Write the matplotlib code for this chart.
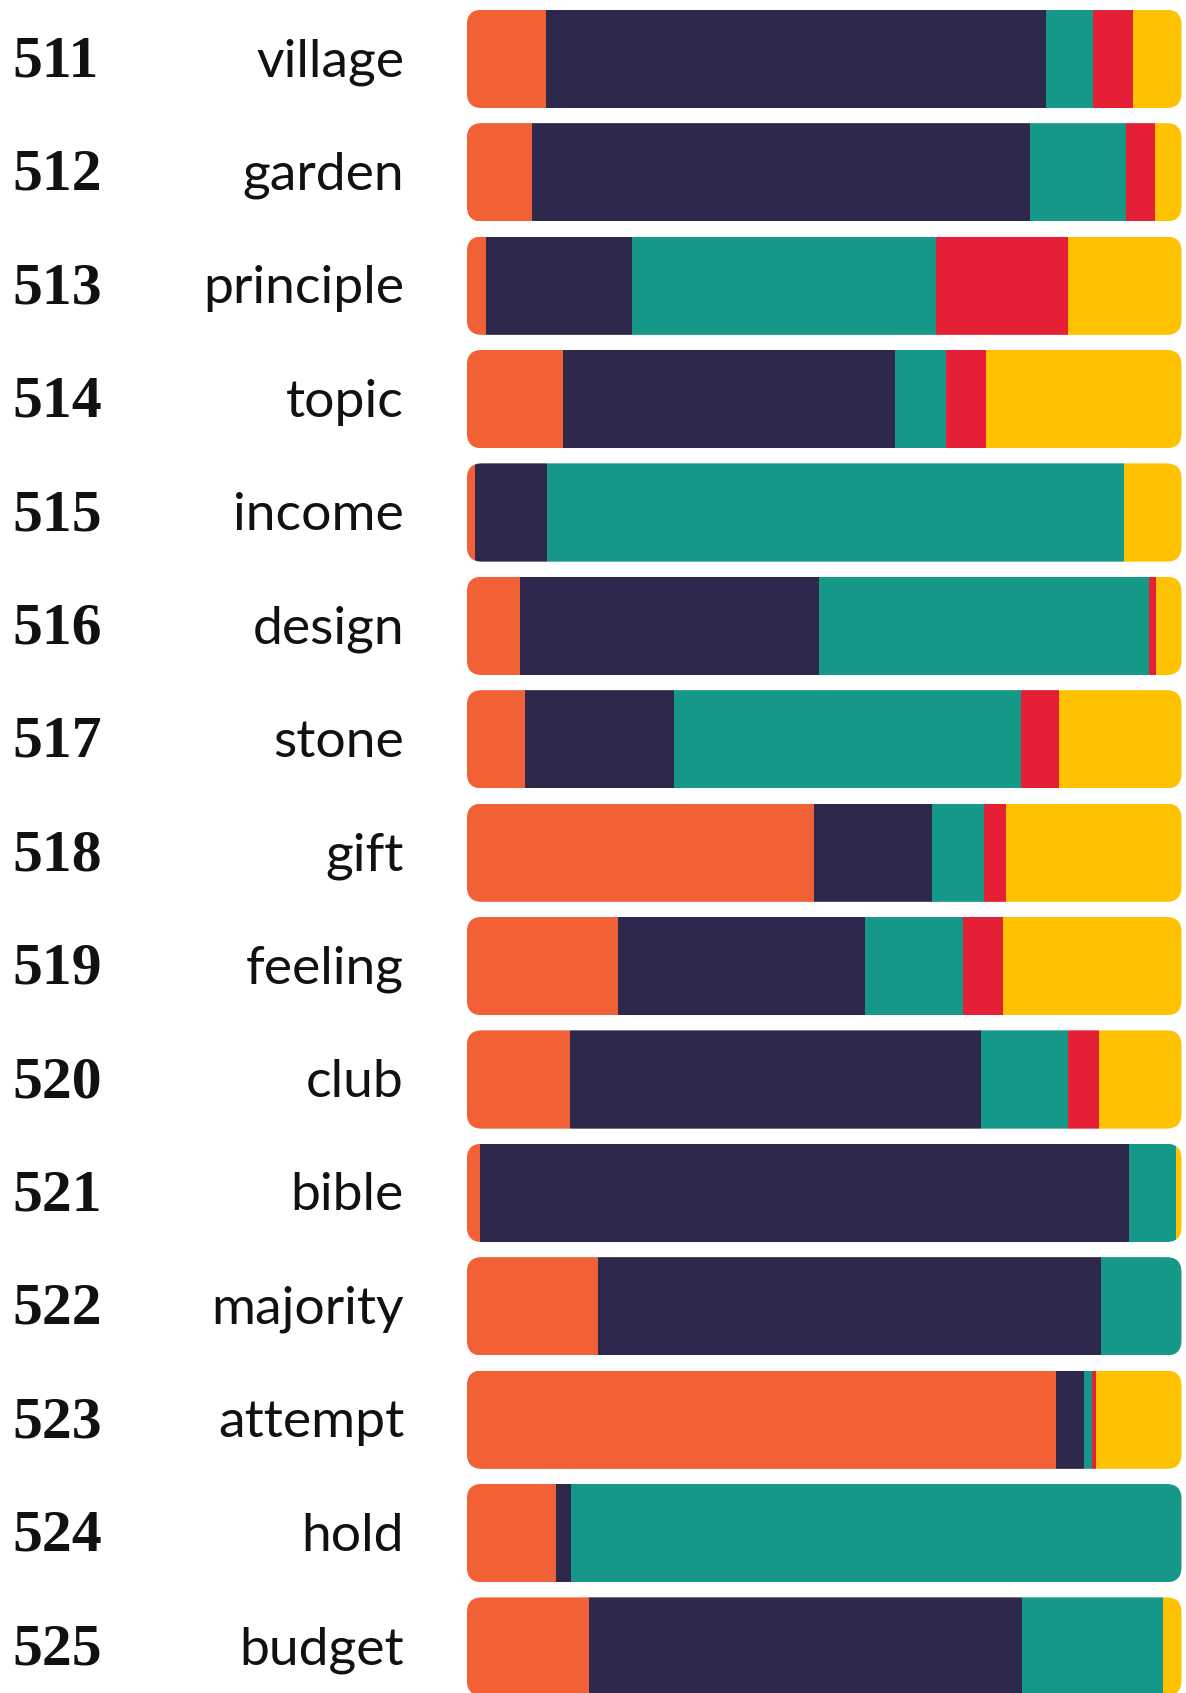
import matplotlib
matplotlib.use("Agg")
import matplotlib.pyplot as plt
import matplotlib.transforms as mtransforms
from matplotlib.patches import FancyBboxPatch
import numpy as np

ranks = [511, 512, 513, 514, 515, 516, 517, 518, 519, 520, 521, 522, 523, 524, 525]
words = ["village", "garden", "principle", "topic", "income", "design", "stone",
         "gift", "feeling", "club", "bible", "majority", "attempt", "hold", "budget"]

# share of each category per word, in percent
cat_a = [11.0, 9.1, 2.7, 13.4, 1.2, 7.5, 8.2, 48.6, 21.2, 14.4, 1.8, 18.3, 82.4, 12.4, 17.1]
cat_b = [70.1, 69.7, 20.4, 46.5, 10.0, 41.8, 20.8, 16.5, 34.5, 57.5, 90.9, 70.5, 3.9, 2.1, 60.6]
cat_c = [6.5, 13.5, 42.6, 7.1, 80.7, 46.2, 48.6, 7.2, 13.7, 12.2, 6.5, 11.2, 1.2, 85.5, 19.7]
cat_d = [5.6, 4.0, 18.4, 5.7, 0.0, 0.9, 5.2, 3.2, 5.6, 4.3, 0.0, 0.0, 0.5, 0.0, 0.0]
cat_e = [6.8, 3.7, 15.9, 27.3, 8.1, 3.6, 17.2, 24.5, 25.0, 11.6, 0.8, 0.0, 12.0, 0.0, 2.6]

colors = ["#F26135", "#2E284D", "#159888", "#E41F36", "#FFC200"]

W, H = 1186, 1693
fig = plt.figure(figsize=(W / 100, H / 100), dpi=100, facecolor="white")

bar_l, bar_r = 466.9, 1181.5
pitch, first_c, bar_h = 113.4, 58.9, 98.3
ax = fig.add_axes([bar_l / W, 0, (bar_r - bar_l) / W, 1])
ax.set_xlim(0, 100)
ax.set_ylim((H - first_c) / pitch, -first_c / pitch)
ax.axis("off")

h = bar_h / pitch
aspect = (1 / pitch) / (100 / (bar_r - bar_l))
radius = 15 * 100 / (bar_r - bar_l)

data = np.array([cat_a, cat_b, cat_c, cat_d, cat_e])
for i in range(len(words)):
    vals = data[:, i]
    vals = vals / vals.sum() * 100
    clip = FancyBboxPatch((0, i - h / 2), 100, h,
                          boxstyle=f"round,pad=0,rounding_size={radius}",
                          mutation_aspect=aspect, facecolor="none",
                          edgecolor="none", transform=ax.transData)
    ax.add_patch(clip)
    left = 0
    for v, c in zip(vals, colors):
        if v > 0:
            bars = ax.barh(i, v, left=left, height=h, color=c, linewidth=0)
            for b in bars:
                b.set_clip_path(clip)
        left += v

trans = mtransforms.blended_transform_factory(fig.transFigure, ax.transData)
for i, (r, w) in enumerate(zip(ranks, words)):
    ax.text(12 / W, i + 0.155, str(r), transform=trans, ha="left", va="baseline",
            fontsize=43, fontweight="bold", family="Liberation Serif", color="#111111")
    ax.text(404 / W, i + 0.155, w, transform=trans, ha="right", va="baseline",
            fontsize=38.5, family="Lato", color="#111111")

fig.savefig("out.png", dpi=100, facecolor="white")
